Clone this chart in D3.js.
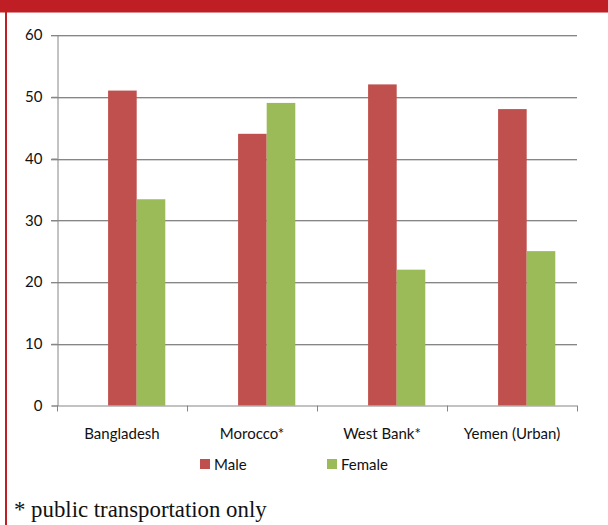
<!DOCTYPE html>
<html>
<head>
<meta charset="utf-8">
<script src="https://cdn.jsdelivr.net/npm/d3@7"></script>
<style>
  html, body { margin: 0; padding: 0; background: #fff; }
  svg { display: block; }
</style>
</head>
<body>
<script>
const categories = ["Bangladesh", "Morocco*", "West Bank*", "Yemen (Urban)"];
const seriesNames = ["Male", "Female"];
const maleValues = [51, 44, 52, 48];
const femaleValues = [33.4, 49, 22, 25];
const yTicks = [0, 10, 20, 30, 40, 50, 60];
const footnote = "* public transportation only";

const W = 608, H = 525;
const colors = { Male: "#C0504D", Female: "#9BBB59" };
const svg = d3.select("body").append("svg").attr("width", W).attr("height", H);

// banner & left border
svg.append("rect").attr("x", 0).attr("y", 0).attr("width", W).attr("height", 12.5).attr("fill", "#BE1E24");
svg.append("rect").attr("x", 5).attr("y", 0).attr("width", 2).attr("height", H).attr("fill", "#BE1E24");

const plotL = 57, plotR = 577, plotT = 35, plotB = 405.5;
const x = d3.scaleBand().domain(categories).range([plotL, plotR]);
const y = d3.scaleLinear().domain([0, 60]).range([plotB, plotT]);

// gridlines
const grid = svg.append("g");
yTicks.filter(t => t > 0).forEach(t => {
  grid.append("line").attr("x1", plotL - 6).attr("x2", plotR).attr("y1", Math.round(y(t)) + 1.5).attr("y2", Math.round(y(t)) + 1.5)
    .attr("stroke", "#d4d4d4").attr("stroke-width", 1);
  grid.append("line").attr("x1", plotL - 6).attr("x2", plotR).attr("y1", Math.round(y(t)) + 0.5).attr("y2", Math.round(y(t)) + 0.5)
    .attr("stroke", "#868686").attr("stroke-width", 1);
});

// bars
const bw = x.bandwidth() * 0.22;
const off = x.bandwidth() * 0.113;
const data = categories.map((c, i) => ({ c, Male: maleValues[i], Female: femaleValues[i] }));
seriesNames.forEach((s, si) => {
  svg.append("g").selectAll("rect").data(data).enter().append("rect")
    .attr("x", d => x(d.c) + x.bandwidth() / 2 + off - bw + si * bw)
    .attr("y", d => y(d[s]))
    .attr("width", bw)
    .attr("height", d => plotB - y(d[s]))
    .attr("fill", colors[s]);
});

const font = "Lato, 'Open Sans', sans-serif";

// y axis
const yAxis = svg.append("g").attr("transform", `translate(${plotL + 0.5},0)`)
  .call(d3.axisLeft(y).tickValues(yTicks).tickSize(6).tickPadding(9));
yAxis.select(".domain").attr("stroke", "#868686");
yAxis.selectAll(".tick line").attr("stroke", "#868686");
yAxis.selectAll(".tick text").attr("font-family", font).attr("font-size", 15).attr("fill", "#111");

// x axis
const xTickPos = d3.range(categories.length + 1).map(i => plotL + i * x.bandwidth());
const xg = svg.append("g");
xg.append("line").attr("x1", plotL).attr("x2", plotR).attr("y1", plotB + 0.5).attr("y2", plotB + 0.5).attr("stroke", "#868686");
xTickPos.forEach(p => {
  xg.append("line").attr("x1", Math.round(p) + 0.5).attr("x2", Math.round(p) + 0.5).attr("y1", plotB).attr("y2", plotB + 6).attr("stroke", "#868686");
});
xg.selectAll("text").data(categories).enter().append("text")
  .attr("x", d => x(d) + x.bandwidth() / 2)
  .attr("y", 439)
  .attr("text-anchor", "middle")
  .attr("font-family", font)
  .attr("font-size", 15)
  .attr("fill", "#111")
  .text(d => d);

// legend
const legendX = [200, 327];
seriesNames.forEach((s, i) => {
  svg.append("rect").attr("x", legendX[i]).attr("y", 459).attr("width", 10).attr("height", 10).attr("fill", colors[s]);
  svg.append("text").attr("x", legendX[i] + 14).attr("y", 469.5)
    .attr("font-family", font).attr("font-size", 15).attr("fill", "#111").text(s);
});

// footnote
svg.append("text").attr("x", 14).attr("y", 516.5)
  .attr("font-family", "'Liberation Serif', 'DejaVu Serif', serif").attr("font-size", 22.8).attr("fill", "#111")
  .text(footnote);
</script>
</body>
</html>
